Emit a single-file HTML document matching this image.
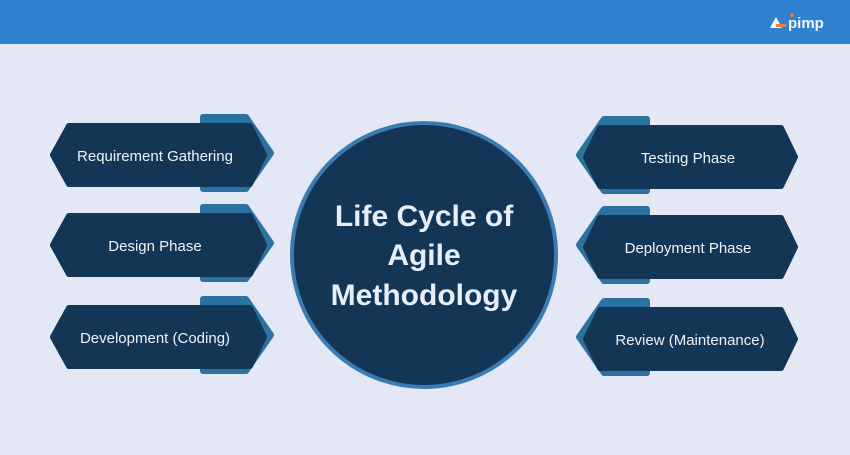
<!DOCTYPE html>
<html><head><style>
body{margin:0;width:850px;height:450px;overflow:hidden;background:#e3e8f4;font-family:"Liberation Sans",sans-serif}
</style></head><body>
<svg width="850" height="450" viewBox="0 0 850 450" xmlns="http://www.w3.org/2000/svg">
<rect x="0" y="0" width="850" height="44" fill="#2f82cf"/>
<g transform="translate(770,14)">
<polygon points="0,14 6,3 12,14" fill="#f3f6fb"/>
<rect x="6" y="10" width="10" height="3" fill="#f07a3c"/>
<text x="18" y="14" font-size="15" font-weight="bold" fill="#f3f6fb">pimp</text>
<circle cx="22" cy="1" r="2" fill="#f07a3c"/>
</g>
<defs>
<g id="L" stroke-linejoin="round" stroke-width="6">
<polygon points="203,-38 246,-38 271,-2 246,34 203,34" fill="#2a73a0" stroke="#2a73a0"/>
<polygon points="53,0 69,-29 250,-29 264,0 250,29 69,29" fill="#133556" stroke="#133556"/>
</g>
<g id="R" stroke-linejoin="round" stroke-width="6">
<polygon points="647,-38 604,-38 579,-2 604,34 647,34" fill="#2a73a0" stroke="#2a73a0"/>
<polygon points="795,0 781,-29 600,-29 586,0 600,29 781,29" fill="#133556" stroke="#133556"/>
</g>
</defs>
<use href="#L" y="155"/><use href="#L" y="245"/><use href="#L" y="337"/>
<use href="#R" y="157"/><use href="#R" y="247"/><use href="#R" y="339"/>
<g font-size="15" fill="#f0f3f8" text-anchor="middle">
<text x="155" y="161">Requirement Gathering</text>
<text x="155" y="251">Design Phase</text>
<text x="155" y="343">Development (Coding)</text>
<text x="688" y="163">Testing Phase</text>
<text x="688" y="253">Deployment Phase</text>
<text x="690" y="345">Review (Maintenance)</text>
</g>
<circle cx="424" cy="255" r="132" fill="#133556" stroke="#3a7cb2" stroke-width="4"/>
<g font-size="30" font-weight="bold" fill="#e8eef7" text-anchor="middle">
<text x="424" y="226">Life Cycle of</text>
<text x="424" y="265">Agile</text>
<text x="424" y="305">Methodology</text>
</g>
</svg>
</body></html>
